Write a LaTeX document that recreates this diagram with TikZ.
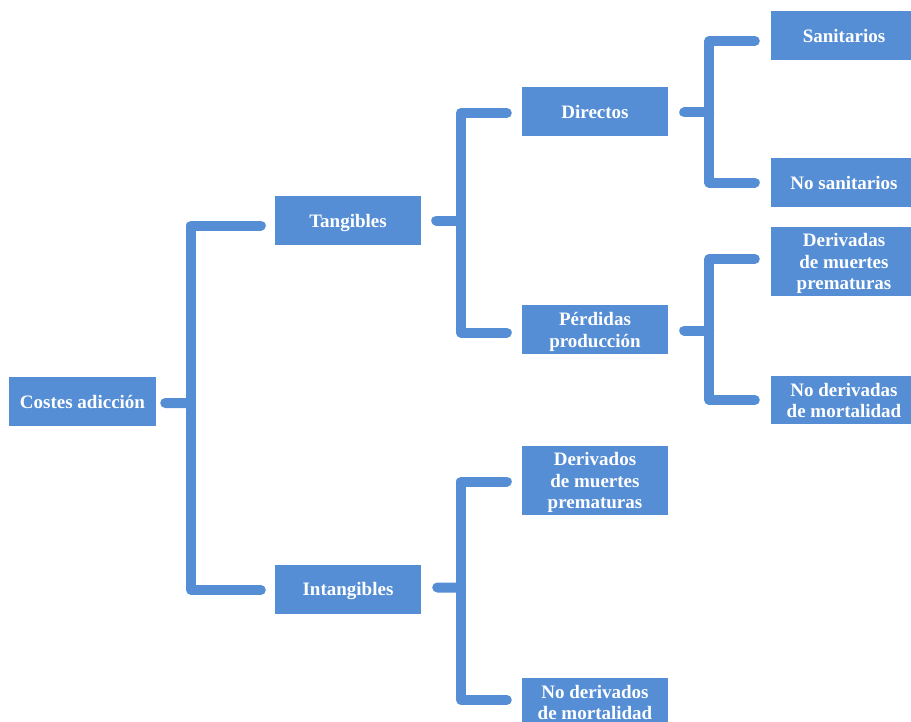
\documentclass[tikz,border=0pt]{standalone}
\usepackage{fontspec}
\setmainfont{Liberation Serif}
\usetikzlibrary{calc}
\definecolor{boxblue}{HTML}{558ED5}
\newcommand{\boxlbl}[1]{\raisebox{-2.5bp}[\height][\depth]{\begin{tabular}{@{}c@{}}#1\end{tabular}}}
\begin{document}
\begin{tikzpicture}[x=1bp,y=-1bp,
  box/.style={fill=boxblue, text=white, inner sep=0pt, minimum width=146bp,
    minimum height=49bp,
    font=\fontsize{19bp}{21.5bp}\selectfont\bfseries},
  tallbox/.style={box, minimum height=69bp},
  conn/.style={draw=boxblue, line width=10bp, line cap=round, line join=round}]
\useasboundingbox (0,0) rectangle (911,722);
\begin{scope}
\clip (0,0) rectangle (911,722);
\node[box, minimum width=147bp] (costes) at (82.5,401.5) {\boxlbl{Costes adicción}};
\node[box] (tang) at (348,220.5) {\boxlbl{Tangibles}};
\node[box] (intang) at (348,589) {\boxlbl{Intangibles}};
\node[box] (dir) at (595,111.5) {\boxlbl{Directos}};
\node[box] (perd) at (595,329.5) {\boxlbl{Pérdidas\\producción}};
\node[tallbox] (derivados) at (595,480.5) {\boxlbl{Derivados\\de muertes\\prematuras}};
\node[box, minimum height=48bp] (noderivados) at (595,702) {\boxlbl{No derivados\\de mortalidad}};
\node[box] (sanit) at (844,35.5) {\boxlbl{Sanitarios}};
\node[box] (nosanit) at (844,182.5) {\boxlbl{No sanitarios}};
\node[tallbox] (derivadas) at (844,261.5) {\boxlbl{Derivadas\\de muertes\\prematuras}};
\node[box, minimum height=48bp] (noderivadas) at (844,400) {\boxlbl{No derivadas\\de mortalidad}};

% Costes -> Tangibles / Intangibles
\draw[conn] ([xshift=9bp,yshift=-1.5bp]costes.east) -- ($(costes.east)+(35,1.5)$);
\draw[conn] ([xshift=-14bp,yshift=-5bp]tang.west) -| ($(costes.east)+(35,1.5)$)
  |- ([xshift=-14bp,yshift=-1bp]intang.west);
% Tangibles -> Directos / Perdidas
\draw[conn] ([xshift=15bp]tang.east) -- ($(tang.east)+(39.5,0)$);
\draw[conn] ([xshift=-15bp,yshift=-1.5bp]dir.west) -| ($(tang.east)+(39.5,0)$)
  |- ([xshift=-15bp,yshift=-3bp]perd.west);
% Directos -> Sanitarios / No sanitarios
\draw[conn] ([xshift=16bp,yshift=-1bp]dir.east) -- ($(dir.east)+(41,1)$);
\draw[conn] ([xshift=-16bp,yshift=-5.5bp]sanit.west) -| ($(dir.east)+(41,1)$)
  |- ([xshift=-16bp]nosanit.west);
% Perdidas -> Derivadas / No derivadas
\draw[conn] ([xshift=16bp,yshift=-1bp]perd.east) -- ($(perd.east)+(41,1)$);
\draw[conn] ([xshift=-16bp,yshift=2.5bp]derivadas.west) -| ($(perd.east)+(41,1)$)
  |- ([xshift=-16bp]noderivadas.west);
% Intangibles -> Derivados / No derivados
\draw[conn] ([xshift=16bp,yshift=1.5bp]intang.east) -- ($(intang.east)+(40,-1.5)$);
\draw[conn] ([xshift=-15bp,yshift=-1bp]derivados.west) -| ($(intang.east)+(40,-1.5)$)
  |- ([xshift=-15bp,yshift=2bp]noderivados.west);
\end{scope}
\end{tikzpicture}
\end{document}
